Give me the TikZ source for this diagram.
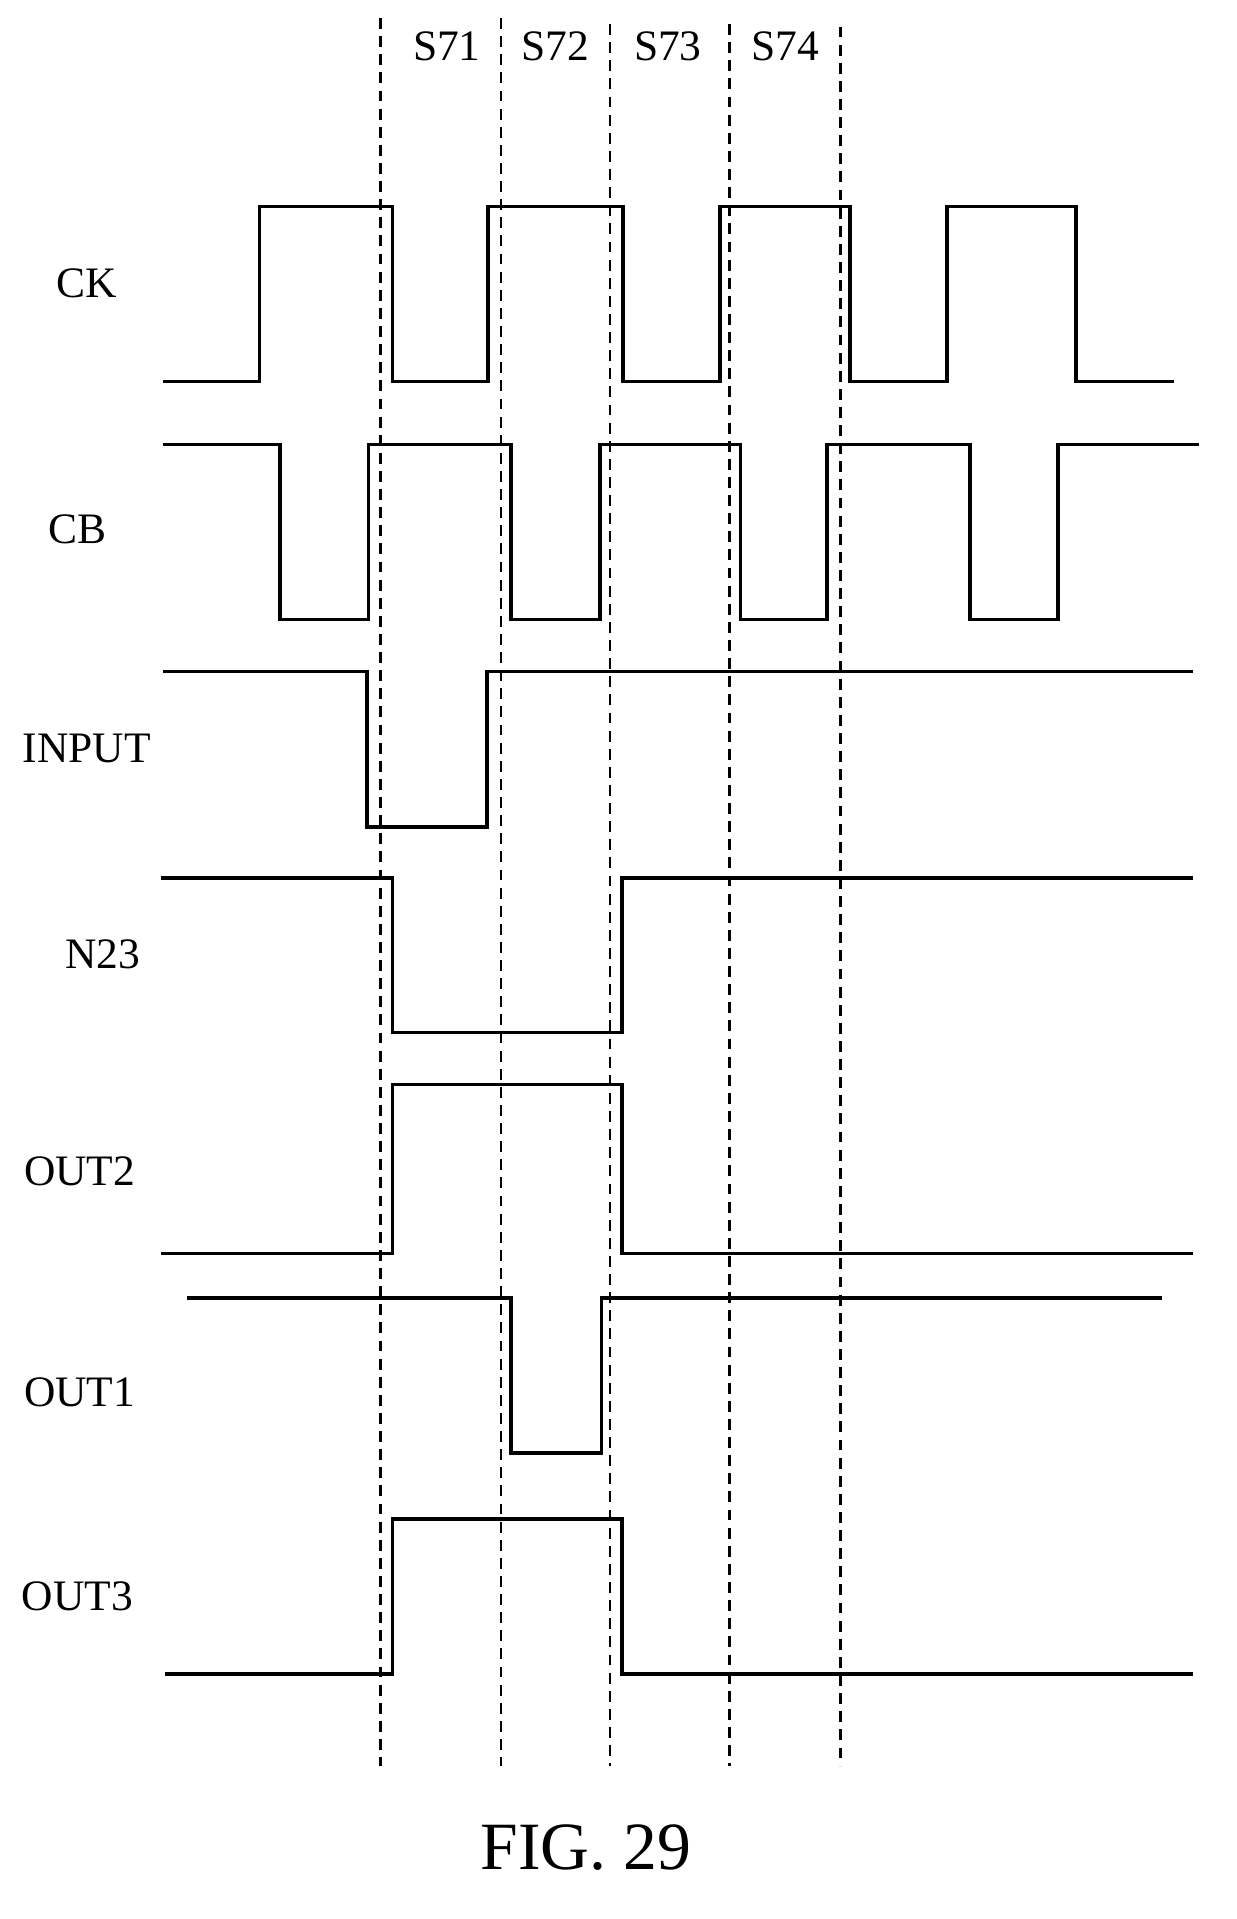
\documentclass[tikz,border=0pt]{standalone}
\usepackage{fontspec}
\setmainfont{Liberation Serif}
\usepackage{tikz}
\usetikzlibrary{calc}

\tikzset{
  wave/.style={line width=3pt, line join=miter},
  guide/.style={line width=1.8pt, dash pattern=on 9pt off 6pt},
  sig/.style={font=\fontsize{36}{40}\selectfont},
}

\begin{document}
\begin{tikzpicture}[x=1pt,y=-1pt]
       \useasboundingbox (0,0) rectangle (1024,1589);

       %dashed guides
       \foreach \x/\t in {315/15,415/15,505/20,604/20,696/22}  {
       	\draw[guide] (\x,\t) -- (\x,1462);
       }
       \node[sig] (s71) at (370,38) {S71};
       \node[sig] (s72) at (460,38) {S72};
       \node[sig] (s73) at (553,38) {S73};
       \node[sig] (s74) at (650,38) {S74};

       %CK
       \draw[wave] (135,316) -| (215,171) -| (325,316) -| (404,171) -| (516,316)
       	-| (596,171) -| (704,316) -| (784,171) -| (891,316) -- (972,316);
       \node[sig] (ck) at (72,235) {CK};

       %CB
       \draw[wave] (135,368) -| (232,513) -| (305,368) -| (423,513) -| (497,368)
       	-| (613,513) -| (685,368) -| (803,513) -| (876,368) -- (993,368);
       \node[sig] (cb) at (64,438) {CB};

       %INPUT
       \draw[wave] (135,556) -| (304,685) -| (403,556) -- (988,556);
       \node[sig] (input) at (72,620) {INPUT};

       %N23
       \draw[wave] (133,727) -| (325,855) -| (515,727) -- (988,727);
       \node[sig] (n23) at (85,790) {N23};

       %OUT2
       \draw[wave] (133,1038) -| (325,898) -| (515,1038) -- (988,1038);
       \node[sig] (out2) at (66,970) {OUT2};

       %OUT1
       \draw[wave] (155,1075) -| (423,1203) -| (498,1075) -- (962,1075);
       \node[sig] (out1) at (66,1153) {OUT1};

       %OUT3
       \draw[wave] (137,1386) -| (325,1258) -| (515,1386) -- (988,1386);
       \node[sig] (out3) at (64,1322) {OUT3};

       \node[font=\fontsize{56}{60}\selectfont] (fig) at (485,1530) {FIG. 29};
\end{tikzpicture}
\end{document}
